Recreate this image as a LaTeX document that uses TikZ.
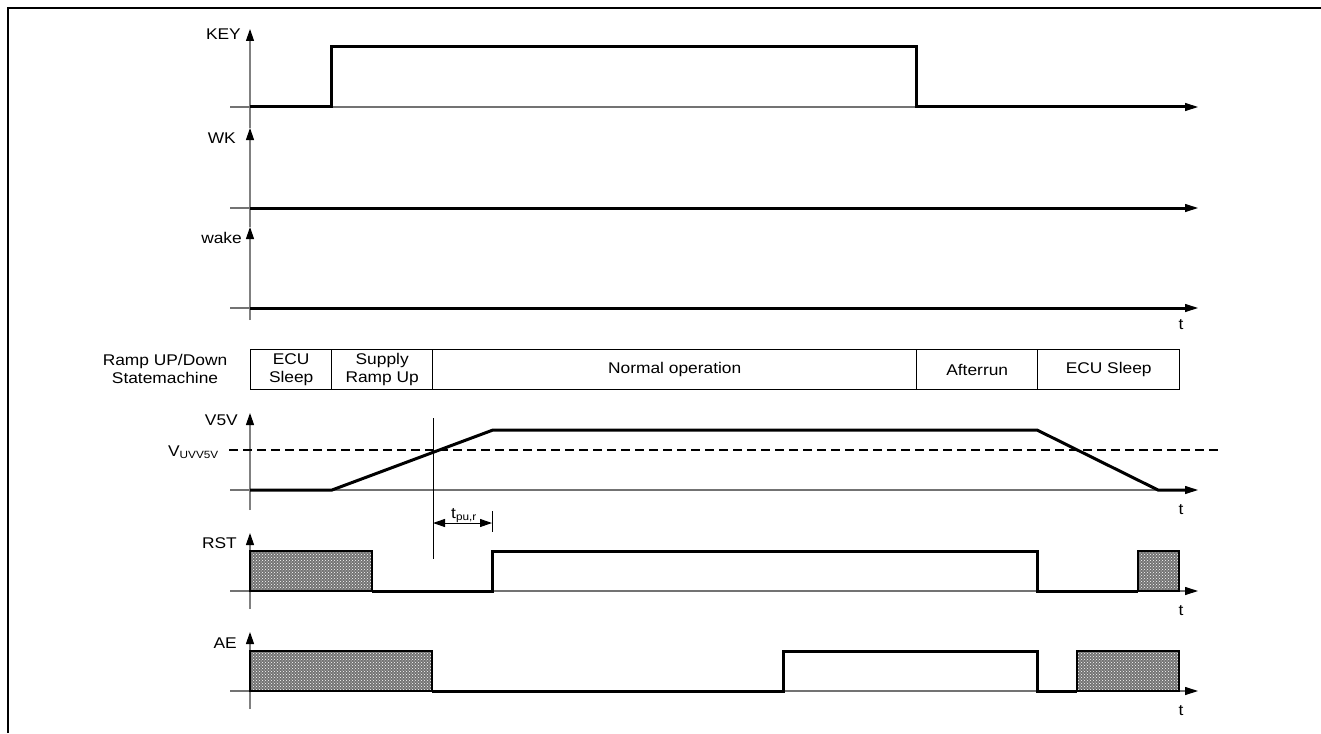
\documentclass[tikz,border=0pt]{standalone}
\usepackage{fontspec}
\setmainfont{Liberation Sans}[FakeStretch=1.12]
\usetikzlibrary{arrows.meta,patterns}
\begin{document}
\begin{tikzpicture}[x=1pt,y=-1pt,
  every node/.style={font=\fontsize{15.5}{18.5}\selectfont, inner sep=0pt},
  lbl/.style={anchor=east},
  tlbl/.style={anchor=center},
  vax/.style={draw=black!50, line width=1.2pt, -{Triangle[length=12pt,width=8pt,black]}},
  hax/.style={draw=black!55, line width=1.1pt, -{Triangle[length=13pt,width=8pt,black]}},
  sig/.style={line width=3pt, line join=miter},
  hatchbox/.style={preaction={fill=black!55}, pattern=crosshatch dots, pattern color=white, draw=black, line width=2.6pt},
  smbox/.style={draw=black, line width=1.4pt, minimum height=40pt, align=center, anchor=north west},
  thr/.style={line width=2pt, dash pattern=on 9pt off 5pt},
  thinline/.style={draw=black, line width=1pt}
]
\useasboundingbox (0,0) rectangle (1321,733);
% frame
\draw[line width=2pt] (8,733) -- (8,8) -- (1321,8);

% ---------- top axes (shared vertical) ----------
\coordinate (vbot) at (250,320);
\coordinate (wakeT) at (250,227);
\coordinate (wkT) at (250,128);
\coordinate (keyT) at (250,29);
\draw[vax] (vbot) -- (wakeT);
\draw[vax] (wakeT) -- (wkT);
\draw[vax] (wkT) -- (keyT);

\foreach \y/\n in {107/key,208/wk,308/wake,490/v,591/rst,691/ae}{
  \coordinate (\n L) at (230,\y);
  \coordinate (\n R) at (1198,\y);
  \draw[hax] (\n L) -- (\n R);
}

% labels
\node[lbl] (lkey) at (241,34) {KEY};
\node[lbl] (lwk) at (236,138) {WK};
\node[lbl] (lwake) at (242,238) {wake};
\node[lbl] (lv5v) at (238,420) {V5V};
\node[lbl] (luv) at (219,452) {V\textsubscript{\fontsize{10.5}{12}\selectfont UVV5V}};
\node[lbl] (lrst) at (237,543) {RST};
\node[lbl] (lae) at (237,643) {AE};
\node[tlbl] (t1) at (1181,325) {t};
\node[tlbl] (t2) at (1181,510) {t};
\node[tlbl] (t3) at (1181,611) {t};
\node[tlbl] (t4) at (1181,711) {t};

% KEY signal
\draw[sig] (250,107) -- (331,107) -- (331,47) -- (916,47) -- (916,107) -- (1185,107);
% WK, wake
\draw[sig] (250,208) -- (1185,208);
\draw[sig] (250,308) -- (1185,308);

% ---------- statemachine ----------
\node[align=center] (smlbl) at (165,369) {Ramp UP/Down\\Statemachine};
\node[smbox, minimum width=81pt] (b1) at (250,349) {ECU\\Sleep};
\node[smbox, minimum width=101pt] (b2) at (331,349) {Supply\\Ramp Up};
\node[smbox, minimum width=484pt] (b3) at (432,349) {Normal operation};
\node[smbox, minimum width=121pt] (b4) at (916,349) {Afterrun};
\node[smbox, minimum width=142pt] (b5) at (1037,349) {ECU Sleep};

% ---------- V5V ----------
\draw[vax] (250,510) -- (250,413);
\draw[thr] (229,450) -- (1221,450);
\draw[sig] (250,490) -- (332,490) -- (493,430) -- (1037,430) -- (1158,490) -- (1185,490);
\coordinate (cross) at (433,418);
\coordinate (crossB) at (433,559);
\draw[thinline] (cross) -- (crossB);
\coordinate (dimL) at (433,523);
\coordinate (dimR) at (492,523);
\draw[thinline] (492,511) -- (492,532);
\draw[line width=1pt, {Triangle[length=12pt,width=8pt]}-{Triangle[length=12pt,width=8pt]}] (dimL) -- (dimR);
\node[anchor=base west] (tpu) at (451,518) {t\textsubscript{\fontsize{10.5}{12}\selectfont pu,r}};

% ---------- RST ----------
\draw[vax] (250,609) -- (250,533);
\draw[hatchbox] (250,591) rectangle (372,551);
\draw[sig] (372,591) -- (492,591) -- (492,551) -- (1037,551) -- (1037,591) -- (1138,591);
\draw[hatchbox] (1138,591) rectangle (1179,551);

% ---------- AE ----------
\draw[vax] (250,709) -- (250,632);
\draw[hatchbox] (250,691) rectangle (432,651);
\draw[sig] (432,691) -- (783,691) -- (783,651) -- (1037,651) -- (1037,691) -- (1077,691);
\draw[hatchbox] (1077,691) rectangle (1179,651);
\end{tikzpicture}
\end{document}
